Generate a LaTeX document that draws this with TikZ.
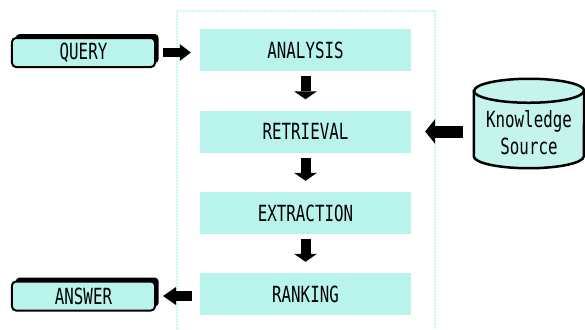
\documentclass[tikz,border=0pt]{standalone}
\usepackage{fontspec}
\newfontfamily\gotica[FakeStretch=0.71]{DejaVu Sans Mono}
\usepackage{xcolor}
\usepackage{tikz}
\usetikzlibrary{arrows.meta,positioning,calc,shadows}
\definecolor{celeste}{RGB}{184,244,236}
\definecolor{celestecil}{RGB}{196,244,236}
\definecolor{marco}{RGB}{196,250,244}

\tikzset{
  etapa/.style={fill=celeste,minimum width=6.33cm,minimum height=1.26cm,
    inner sep=0pt,font=\gotica\fontsize{19}{21}\selectfont},
  caja/.style={fill=celeste,draw=black,line width=0.06cm,rounded corners=0.12cm,
    minimum width=4.29cm,minimum height=0.87cm,inner sep=0pt,
    font=\gotica\fontsize{19}{21}\selectfont,
    drop shadow={shadow xshift=0.11cm,shadow yshift=0.12cm,fill=black,opacity=1}},
  flecha/.style n args={3}{line width=#1,
    -{Triangle[width=#2,length=#3,line width=0pt]}},
}

\begin{document}
\begin{tikzpicture}[x=0.03cm,y=-0.03cm]
    \useasboundingbox (0,0) rectangle (585,329);
    % Marco del sistema.
    \draw[marco,line width=0.06cm,dash pattern=on 0.06cm off 0.03cm]
      (177,329)--(177,11)--(435,11)--(435,329);

    % Etapas del sistema.
    \node[etapa] (analisis) at (305.5,50) {ANALYSIS};
    \node[etapa] (recuperacion) at (305.5,131.5) {RETRIEVAL};
    \node[etapa] (extraccion) at (305.5,213) {EXTRACTION};
    \node[etapa] (ranking) at (305.5,294) {RANKING};

    % Entrada y salida.
    \node[caja] (consulta) at (83.5,52.5) {QUERY};
    \node[caja] (respuesta) at (83.5,296) {ANSWER};

    % Fuente de conocimiento (cilindro).
    \node[minimum width=3.3cm,minimum height=2.67cm,inner sep=0pt] (fuente) at (529,123.5) {};
    \filldraw[fill=celestecil,line width=0.075cm]
      ($(fuente.north west)+(0,12)$) -- ($(fuente.south west)+(0,-12)$)
      arc[start angle=180,end angle=360,x radius=1.65cm,y radius=0.36cm]
      -- ($(fuente.north east)+(0,12)$)
      arc[start angle=0,end angle=180,x radius=1.65cm,y radius=0.36cm] -- cycle;
    \draw[line width=0.075cm] ($(fuente.north west)+(0,12)$)
      arc[start angle=180,end angle=360,x radius=1.65cm,y radius=0.36cm];
    \node[align=center,font=\gotica\fontsize{19}{23}\selectfont] (fuentetxt)
      at ($(fuente.center)+(0,9.5)$) {Knowledge\\Source};

    % Flechas entre etapas.
    \draw[flecha={0.3cm}{0.69cm}{0.24cm},shorten <=0.15cm,shorten >=0.33cm]
      (analisis.south) -- (recuperacion.north);
    \draw[flecha={0.3cm}{0.69cm}{0.24cm},shorten <=0.15cm,shorten >=0.33cm]
      (recuperacion.south) -- (extraccion.north);
    \draw[flecha={0.3cm}{0.69cm}{0.24cm},shorten <=0.15cm,shorten >=0.33cm]
      (extraccion.south) -- (ranking.north);

    % Flechas de entrada y salida.
    \draw[flecha={0.27cm}{0.51cm}{0.33cm},shorten <=0.21cm,shorten >=0.27cm]
      (consulta.east) -- (consulta.east -| analisis.west);
    \draw[flecha={0.36cm}{0.75cm}{0.3cm},shorten <=0.33cm,shorten >=0.42cm]
      (fuente.west |- recuperacion.east) -- (recuperacion.east);
    \draw[flecha={0.3cm}{0.54cm}{0.39cm},shorten <=0.24cm,shorten >=0.21cm]
      (respuesta.east -| ranking.west) -- (respuesta.east);
\end{tikzpicture}
\end{document}
